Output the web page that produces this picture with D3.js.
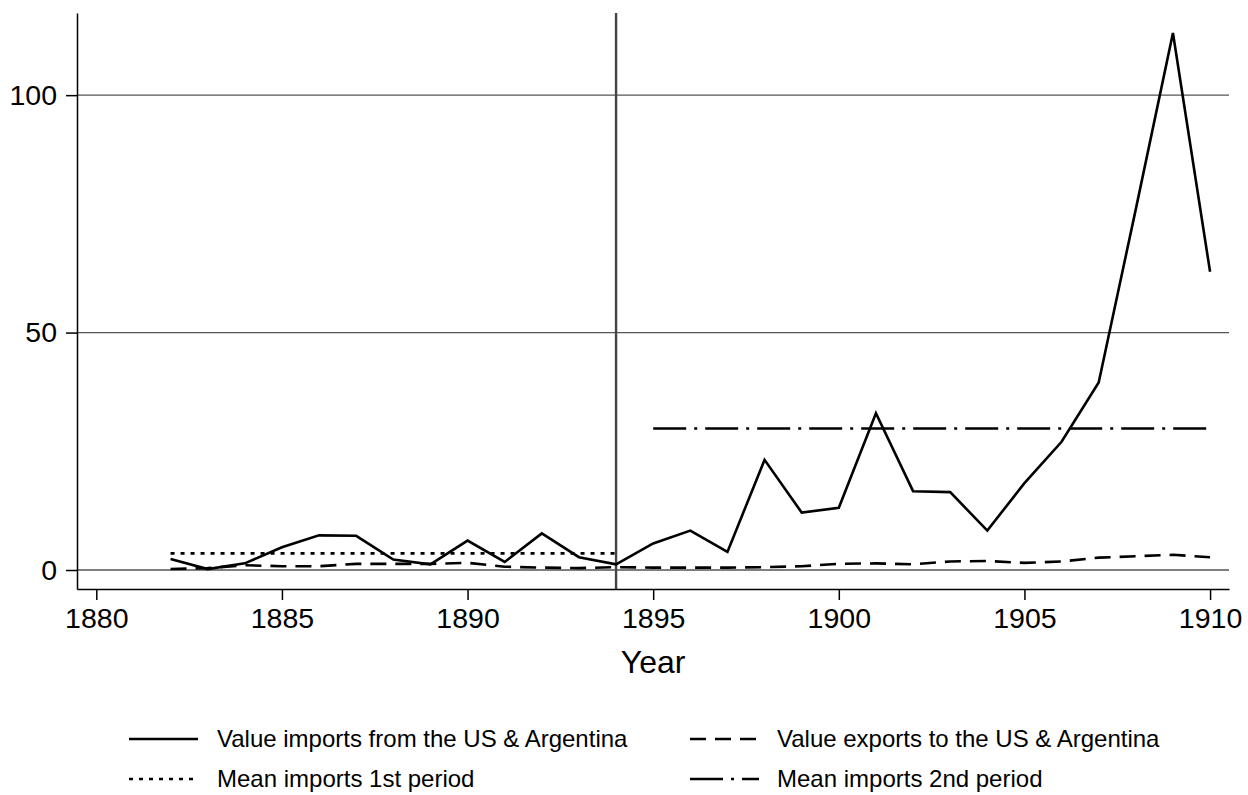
<!DOCTYPE html>
<html>
<head>
<meta charset="utf-8">
<script src="https://cdn.jsdelivr.net/npm/d3@7"></script>
<style>
  body { margin: 0; background: #fff; }
  svg { font-family: "Liberation Sans", Arial, sans-serif; }
  .axis path, .axis line { stroke: #000; stroke-width: 1.5px; }
  .axis text { font-size: 28.5px; fill: #000; }
  .grid { stroke: #555; stroke-width: 1.3px; }
</style>
</head>
<body>
<div id="main"></div>
<script>
// values (millions, by year)
const years = d3.range(1882, 1911);
const imports = [2.3, 0.2, 1.4, 4.8, 7.3, 7.2, 2.2, 1.2, 6.2, 1.7, 7.7, 2.7, 1.2,
  5.6, 8.3, 3.8, 23.2, 12.1, 13.1, 33.0, 16.6, 16.4, 8.3, 18.3, 27.0, 39.5, 76.0, 113.1, 62.8];
const exports = [0.2, 0.4, 1.0, 0.8, 0.8, 1.3, 1.3, 1.3, 1.5, 0.7, 0.5, 0.4, 0.6,
  0.5, 0.5, 0.5, 0.6, 0.8, 1.3, 1.4, 1.2, 1.8, 1.9, 1.5, 1.8, 2.6, 2.9, 3.2, 2.7];
const meanFirst = {from: 1882, to: 1894, value: 3.5};
const meanSecond = {from: 1895, to: 1910, value: 29.8};
const breakYear = 1894;
const xTicks = [1880, 1885, 1890, 1895, 1900, 1905, 1910];
const yTicks = [0, 50, 100];
const legendLabels = [
  'Value imports from the US & Argentina',
  'Value exports to the US & Argentina',
  'Mean imports 1st period',
  'Mean imports 2nd period'
];

const width = 1248, height = 795;
const plot = {left: 77, right: 1229, top: 13, bottom: 589};

const x = d3.scaleLinear().domain([1879.48, 1910.51]).range([plot.left, plot.right]);
const y = d3.scaleLinear().domain([-4, 117.3]).range([plot.bottom, plot.top]);

const svg = d3.select('#main').append('svg')
  .attr('width', width)
  .attr('height', height);

// horizontal grid
svg.append('g')
  .selectAll('line')
  .data(yTicks)
  .join('line')
    .attr('class', 'grid')
    .attr('x1', plot.left).attr('x2', plot.right)
    .attr('y1', d => y(d)).attr('y2', d => y(d));

// break between the two periods
svg.append('line')
  .attr('x1', x(breakYear)).attr('x2', x(breakYear))
  .attr('y1', plot.top).attr('y2', plot.bottom)
  .attr('stroke', '#444')
  .attr('stroke-width', 2.4);

svg.append('g')
  .attr('class', 'axis')
  .attr('transform', `translate(0,${plot.bottom})`)
  .call(d3.axisBottom(x).tickValues(xTicks).tickFormat(d3.format('d'))
    .tickSize(11).tickSizeOuter(0).tickPadding(8));

svg.append('g')
  .attr('class', 'axis')
  .attr('transform', `translate(${plot.left},0)`)
  .call(d3.axisLeft(y).tickValues(yTicks).tickSize(11).tickSizeOuter(0).tickPadding(9));

svg.append('text')
  .attr('x', x(1895))
  .attr('y', 673)
  .attr('text-anchor', 'middle')
  .attr('font-size', 32)
  .text('Year');

const line = d3.line()
  .x(d => x(d[0]))
  .y(d => y(d[1]));

const styles = [
  {dash: null},
  {dash: '16,9'},
  {dash: '4,6'},
  {dash: '33,8,3,8'}
];

function drawPath(points, style) {
  svg.append('path')
    .datum(points)
    .attr('d', line)
    .attr('fill', 'none')
    .attr('stroke', '#000')
    .attr('stroke-width', 2.6)
    .attr('stroke-dasharray', style.dash);
}

drawPath(years.map((yr, i) => [yr, exports[i]]), styles[1]);
drawPath([[meanFirst.from, meanFirst.value], [meanFirst.to, meanFirst.value]], styles[2]);
drawPath([[meanSecond.from, meanSecond.value], [meanSecond.to, meanSecond.value]], styles[3]);
drawPath(years.map((yr, i) => [yr, imports[i]]), styles[0]);

// legend, two columns by two rows
const legend = svg.append('g')
  .selectAll('g')
  .data(legendLabels)
  .join('g')
    .attr('transform', (d, i) => `translate(${i % 2 ? 690 : 129},${i < 2 ? 739 : 779})`);

legend.append('line')
  .attr('x1', 0).attr('x2', 69)
  .attr('stroke', '#000')
  .attr('stroke-width', 2.6)
  .attr('stroke-dasharray', (d, i) => styles[i].dash);

legend.append('text')
  .attr('x', (d, i) => i % 2 ? 87 : 88)
  .attr('dy', '0.35em')
  .attr('font-size', 24)
  .text(d => d);
</script>
</body>
</html>
